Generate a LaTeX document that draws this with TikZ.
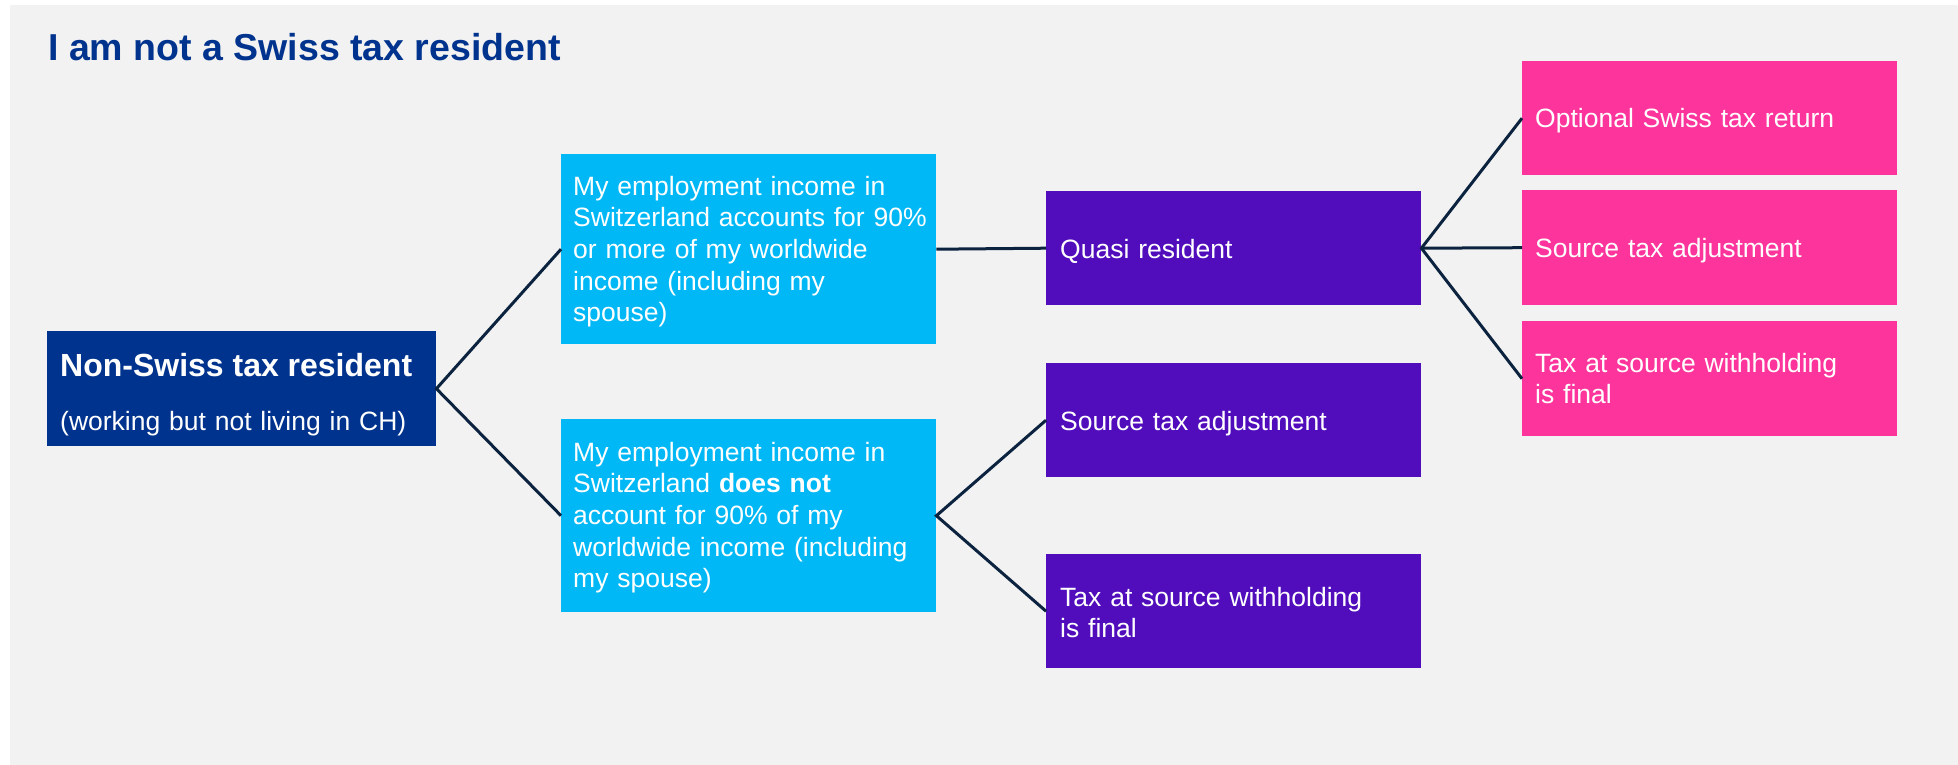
\documentclass[tikz,border=0pt]{standalone}
\usepackage{fontspec}
\usetikzlibrary{calc}
\setmainfont{Liberation Sans}

\definecolor{pagebg}{HTML}{F2F2F2}
\definecolor{titleblue}{HTML}{00338D}
\definecolor{rootblue}{HTML}{00338D}
\definecolor{condcyan}{HTML}{00B8F5}
\definecolor{resultpurple}{HTML}{510DBC}
\definecolor{optionpink}{HTML}{FD349C}
\definecolor{linknavy}{HTML}{0C233F}

\newcommand{\bodysize}{\fontsize{26.5}{31.7}\selectfont}

\tikzset{
  box/.style={rectangle, anchor=north west, inner sep=0pt},
  rootbox/.style={box, fill=rootblue, minimum width=389pt, minimum height=115pt},
  condbox/.style={box, fill=condcyan, minimum width=375pt},
  resultbox/.style={box, fill=resultpurple, minimum width=375pt, minimum height=114pt},
  optionbox/.style={box, fill=optionpink, minimum width=375pt, minimum height=115pt},
  label/.style={anchor=base west, inner sep=0pt, text width=370pt, align=left,
    text=white, font=\bodysize},
  link/.style={draw=linknavy, line width=3pt, line join=miter},
}

\begin{document}
\begin{tikzpicture}[x=1pt, y=-1pt]
  % page and panel
  \fill[white] (0,0) rectangle (1958,765);
  \fill[pagebg] (10,5) rectangle (1958,765);
  \useasboundingbox (0,0) rectangle (1958,765);

  % heading
  \node[anchor=base west, inner sep=0pt, text=titleblue,
        font=\fontsize{37.5}{45}\selectfont\bfseries] (title) at (48,61)
        {I am not a Swiss tax resident};

  % boxes
  \node[rootbox] (root) at (47,331) {};
  \node[condbox, minimum height=190pt] (above) at (561,154) {};
  \node[condbox, minimum height=193pt] (below) at (561,419) {};
  \node[resultbox] (quasi) at (1046,191) {};
  \node[resultbox] (adjB) at (1046,363) {};
  \node[resultbox] (finalB) at (1046,554) {};
  \node[optionbox, minimum height=114pt] (optret) at (1522,61) {};
  \node[optionbox] (adjQ) at (1522,190) {};
  \node[optionbox] (finalQ) at (1522,321) {};

  % box texts, placed by the baseline of their first line
  \node[label] (rootT) at ($(root.north west)+(13,45)$)
    {{\fontsize{32}{38}\selectfont\bfseries Non-Swiss tax resident\par}%
     {\fontsize{26.5}{54}\selectfont (working but not living in CH)\par}};
  \node[label] (aboveT) at ($(above.north west)+(12,41)$)
    {My employment income in\\
     Switzerland accounts for 90\%\\
     or more of my worldwide\\
     income (including my\\
     spouse)};
  \node[label] (belowT) at ($(below.north west)+(12,42)$)
    {My employment income in\\
     Switzerland \textbf{does not}\\
     account for 90\% of my\\
     worldwide income (including\\
     my spouse)};
  \node[label] (quasiT) at ($(quasi.north west)+(14,67)$) {Quasi resident};
  \node[label] (adjBT) at ($(adjB.north west)+(14,67)$) {Source tax adjustment};
  \node[label] (finalBT) at ($(finalB.north west)+(14,52)$)
    {Tax at source withholding\\ is final};
  \node[label] (optretT) at ($(optret.north west)+(13,67)$) {Optional Swiss tax return};
  \node[label] (adjQT) at ($(adjQ.north west)+(13,67)$) {Source tax adjustment};
  \node[label] (finalQT) at ($(finalQ.north west)+(13,51)$)
    {Tax at source withholding\\ is final};

  % connectors
  \draw[link] (above.west) -- (root.east) -- (below.west);
  \draw[link] (above.east) -- (quasi.west);
  \draw[link] (adjB.west) -- (below.east) -- (finalB.west);
  \draw[link] (optret.west) -- (quasi.east) -- (finalQ.west);
  \draw[link] (quasi.east) -- (adjQ.west);
\end{tikzpicture}
\end{document}
